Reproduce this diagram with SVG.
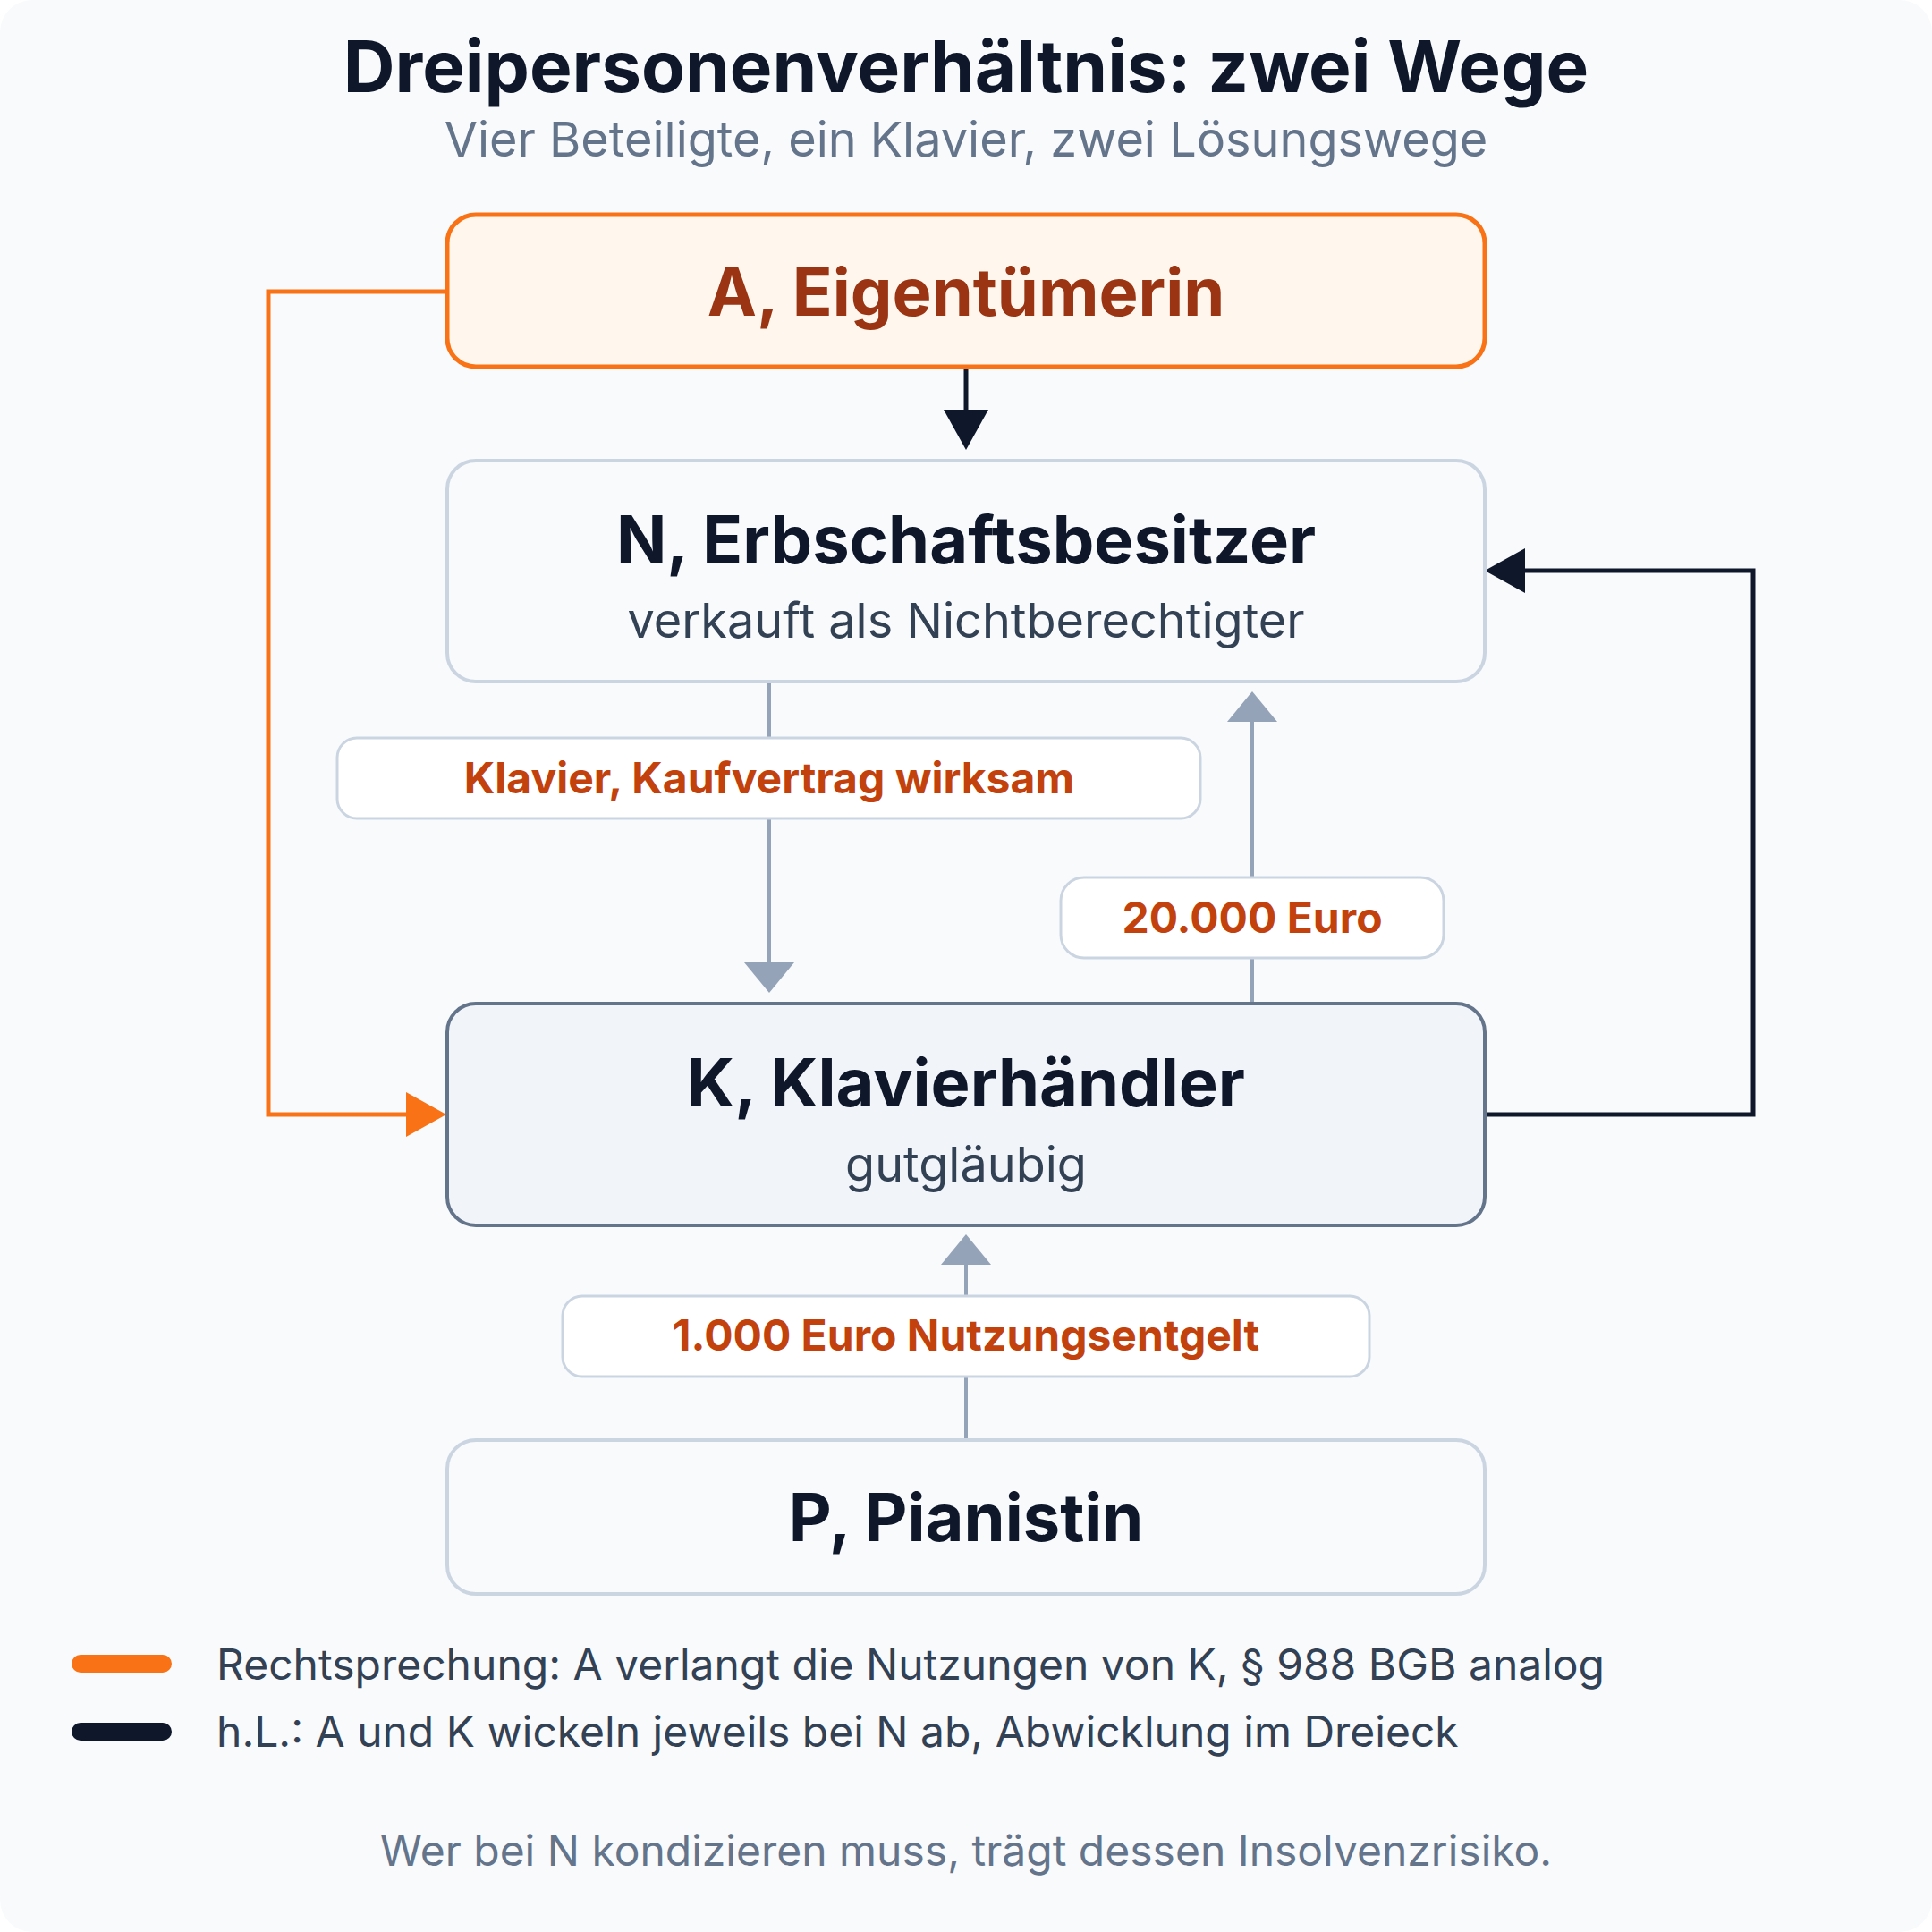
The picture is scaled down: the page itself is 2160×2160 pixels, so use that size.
<svg xmlns="http://www.w3.org/2000/svg" width="2160" height="2160" viewBox="0 0 2160 2160">
  <style>
    text { font-family: Inter, "Noto Sans", "Liberation Sans", sans-serif; }
    .title { font-size: 80px; font-weight: 700; fill: #0f172a; text-anchor: middle; }
    .subtitle { font-size: 54px; font-weight: 400; fill: #64748b; text-anchor: middle; }
    .ntitle { font-size: 74px; font-weight: 700; fill: #0f172a; text-anchor: middle; }
    .nsub { font-size: 54px; font-weight: 400; fill: #334155; text-anchor: middle; }
    .lbl { font-size: 48px; font-weight: 700; fill: #c2410c; text-anchor: middle; }
    .lblbox { fill: #ffffff; stroke: #cbd5e1; stroke-width: 3; }
    .legend { font-size: 48px; font-weight: 400; fill: #334155; }
    .footer { font-size: 48px; font-weight: 400; fill: #64748b; text-anchor: middle; }
    .gray { stroke: #94a3b8; stroke-width: 4; fill: none; }
    .dark { stroke: #0f172a; stroke-width: 5; fill: none; }
    .orange { stroke: #f97316; stroke-width: 5; fill: none; }
  </style>
  <defs>
    <marker id="ah-dark" markerUnits="userSpaceOnUse" markerWidth="46" markerHeight="52" refX="0" refY="25" orient="auto" viewBox="0 0 46 50" overflow="visible">
      <path d="M0,0 L45,25 L0,50 z" fill="#0f172a"/>
    </marker>
    <marker id="ah-orange" markerUnits="userSpaceOnUse" markerWidth="46" markerHeight="52" refX="0" refY="25" orient="auto" viewBox="0 0 46 50" overflow="visible">
      <path d="M0,0 L45,25 L0,50 z" fill="#f97316"/>
    </marker>
    <marker id="ah-gray" markerUnits="userSpaceOnUse" markerWidth="36" markerHeight="58" refX="0" refY="28" orient="auto" viewBox="0 0 36 56" overflow="visible">
      <path d="M0,0 L34,28 L0,56 z" fill="#94a3b8"/>
    </marker>
  </defs>

  <rect x="0" y="0" width="2160" height="2160" fill="#ffffff"/>
  <rect x="0" y="0" width="2160" height="2160" rx="36" fill="#f8fafc"/>

  <g id="header">
    <text class="title" x="1080" y="103">Dreipersonenverhältnis: zwei Wege</text>
    <text class="subtitle" x="1080" y="175">Vier Beteiligte, ein Klavier, zwei Lösungswege</text>
  </g>

  <g id="connectors">
    <!-- A -> N (h.L.) -->
    <line class="dark" x1="1080" y1="412" x2="1080" y2="458" stroke-width="6" marker-end="url(#ah-dark)"/>
    <!-- A -> K (Rechtsprechung) -->
    <polyline class="orange" points="500,326 300,326 300,1246 454,1246" marker-end="url(#ah-orange)"/>
    <!-- K -> N (h.L.) -->
    <polyline class="dark" points="1660,1246 1960,1246 1960,638 1705,638" marker-end="url(#ah-dark)"/>
    <!-- N -> K Klavier -->
    <line class="gray" x1="860" y1="763" x2="860" y2="1076" marker-end="url(#ah-gray)"/>
    <!-- K -> N 20.000 Euro -->
    <line class="gray" x1="1400" y1="1122" x2="1400" y2="807" marker-end="url(#ah-gray)"/>
    <!-- P -> K Nutzungsentgelt -->
    <line class="gray" x1="1080" y1="1610" x2="1080" y2="1414" marker-end="url(#ah-gray)"/>

    <g id="label-klavier">
      <rect class="lblbox" x="377" y="825" width="965" height="90" rx="22"/>
      <text class="lbl" x="860" y="887">Klavier, Kaufvertrag wirksam</text>
    </g>
    <g id="label-20000">
      <rect class="lblbox" x="1186" y="981" width="428" height="90" rx="26"/>
      <text class="lbl" x="1400" y="1043">20.000 Euro</text>
    </g>
    <g id="label-1000">
      <rect class="lblbox" x="629" y="1449" width="902" height="90" rx="22"/>
      <text class="lbl" x="1080" y="1510">1.000 Euro Nutzungsentgelt</text>
    </g>
  </g>

  <g id="node-A">
    <rect x="500" y="240" width="1160" height="170" rx="32" fill="#fff7ed" stroke="#f97316" stroke-width="5"/>
    <text class="ntitle" x="1080" y="353" style="fill:#9a3412">A, Eigentümerin</text>
  </g>

  <g id="node-N">
    <rect x="500" y="515" width="1160" height="247" rx="32" fill="#f8fafc" stroke="#cbd5e1" stroke-width="4"/>
    <text class="ntitle" x="1080" y="630">N, Erbschaftsbesitzer</text>
    <text class="nsub" x="1080" y="713">verkauft als Nichtberechtigter</text>
  </g>

  <g id="node-K">
    <rect x="500" y="1122" width="1160" height="248" rx="32" fill="#f1f5f9" stroke="#64748b" stroke-width="4"/>
    <text class="ntitle" x="1080" y="1237">K, Klavierhändler</text>
    <text class="nsub" x="1080" y="1321">gutgläubig</text>
  </g>

  <g id="node-P">
    <rect x="500" y="1610" width="1160" height="172" rx="32" fill="#f8fafc" stroke="#cbd5e1" stroke-width="4"/>
    <text class="ntitle" x="1080" y="1723">P, Pianistin</text>
  </g>

  <g id="legend">
    <line x1="90" y1="1860" x2="182" y2="1860" stroke="#f97316" stroke-width="20" stroke-linecap="round"/>
    <text class="legend" x="242" y="1878">Rechtsprechung: A verlangt die Nutzungen von K, § 988 BGB analog</text>
    <line x1="90" y1="1936" x2="182" y2="1936" stroke="#0f172a" stroke-width="20" stroke-linecap="round"/>
    <text class="legend" x="242" y="1953">h.L.: A und K wickeln jeweils bei N ab, Abwicklung im Dreieck</text>
  </g>

  <g id="footer">
    <text class="footer" x="1080" y="2086">Wer bei N kondizieren muss, trägt dessen Insolvenzrisiko.</text>
  </g>
</svg>
